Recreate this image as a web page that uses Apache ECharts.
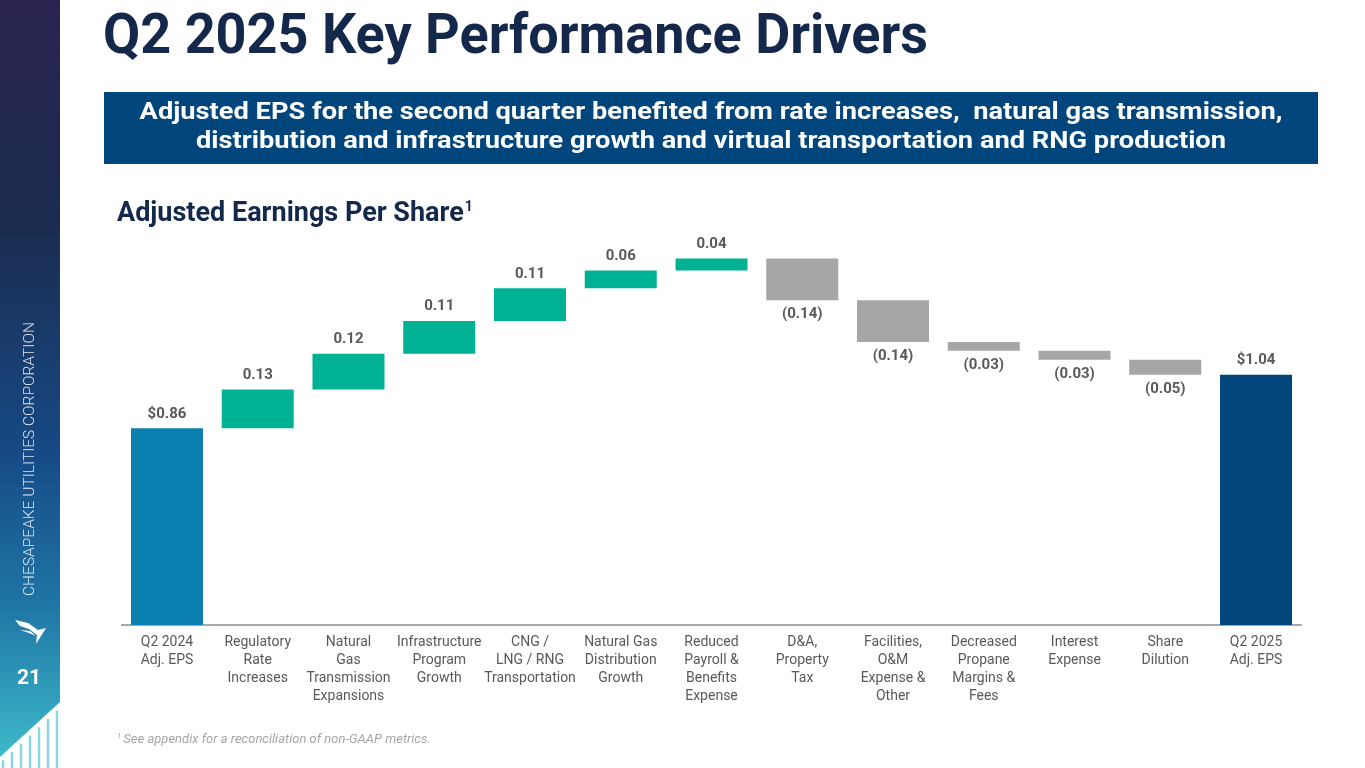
<!DOCTYPE html>
<html>
<head>
<meta charset="utf-8">
<script src="https://cdn.jsdelivr.net/npm/echarts@6/dist/echarts.min.js"></script>
<style>
html,body{margin:0;padding:0;background:#fff;}
#chart{width:1365px;height:768px;}
</style>
</head>
<body>
<div id="chart"></div>
<script>
// ---- data ----
const categories = [
  'Q2 2024\nAdj. EPS',
  'Regulatory\nRate\nIncreases',
  'Natural\nGas\nTransmission\nExpansions',
  'Infrastructure\nProgram\nGrowth',
  'CNG /\nLNG / RNG\nTransportation',
  'Natural Gas\nDistribution\nGrowth',
  'Reduced\nPayroll &\nBenefits\nExpense',
  'D&A,\nProperty\nTax',
  'Facilities,\nO&M\nExpense &\nOther',
  'Decreased\nPropane\nMargins &\nFees',
  'Interest\nExpense',
  'Share\nDilution',
  'Q2 2025\nAdj. EPS'
];
const startValue = 0.86;
const changes = [0.13, 0.12, 0.11, 0.11, 0.06, 0.04, -0.14, -0.14, -0.03, -0.03, -0.05];
const endValue = 1.04;
const valueLabels = ['$0.86', '0.13', '0.12', '0.11', '0.11', '0.06', '0.04',
  '(0.14)', '(0.14)', '(0.03)', '(0.03)', '(0.05)', '$1.04'];

const COLOR_START = '#0C7FB1';
const COLOR_UP = '#00B294';
const COLOR_DOWN = '#A6A6A6';
const COLOR_END = '#00457C';

// ---- build waterfall from data ----
const baseData = [0];
const barData = [];
barData.push({value: startValue, itemStyle: {color: COLOR_START}, label: {position: 'top'}});
let running = startValue;
changes.forEach(c => {
  if (c >= 0) {
    baseData.push(+running.toFixed(4));
    barData.push({value: c, itemStyle: {color: COLOR_UP}, label: {position: 'top'}});
  } else {
    baseData.push(+(running + c).toFixed(4));
    barData.push({value: -c, itemStyle: {color: COLOR_DOWN}, label: {position: 'bottom'}});
  }
  running += c;
});
baseData.push(0);
barData.push({value: endValue, itemStyle: {color: COLOR_END}, label: {position: 'top'}});

const chart = echarts.init(document.getElementById('chart'));

// sidebar decoration lines
const sideLines = [];
const lineXs = [3, 12, 21, 30, 39, 48, 57];
lineXs.forEach(x => {
  const topY = 757 - (x / 60) * 55 + 6;
  sideLines.push({
    type: 'line',
    shape: {x1: x, y1: topY, x2: x, y2: 768},
    style: {stroke: '#8ad7e3', lineWidth: 2.5},
    z: 9
  });
});

const option = {
  animation: false,
  backgroundColor: '#ffffff',
  grid: {left: 121.6, right: 63.6, top: 237.6, height: 387.4, containLabel: false},
  xAxis: {
    type: 'category',
    data: categories,
    axisTick: {show: false},
    axisLine: {lineStyle: {color: '#8c8c8c', width: 1.5}},
    axisLabel: {
      interval: 0,
      margin: 8,
      color: '#595959',
      fontFamily: 'Roboto',
      fontSize: 14,
      lineHeight: 18
    }
  },
  yAxis: {
    type: 'value',
    min: 0.2,
    max: 1.5,
    show: false,
    splitLine: {show: false}
  },
  series: [
    {
      name: 'base',
      type: 'bar',
      stack: 'wf',
      data: baseData,
      barWidth: 72,
      itemStyle: {color: 'rgba(0,0,0,0)'},
      emphasis: {disabled: true},
      silent: true
    },
    {
      name: 'value',
      type: 'bar',
      stack: 'wf',
      data: barData,
      barWidth: 72,
      emphasis: {disabled: true},
      label: {
        show: true,
        distance: 7,
        color: '#595959',
        fontFamily: 'Roboto',
        fontWeight: 'bold',
        fontSize: 15,
        formatter: p => valueLabels[p.dataIndex]
      }
    }
  ],
  graphic: [
    // sidebar
    {
      type: 'polygon',
      shape: {points: [[0, 0], [60, 0], [60, 702], [0, 757]]},
      style: {
        fill: new echarts.graphic.LinearGradient(0, 0, 0, 1, [
          {offset: 0, color: '#2A2350'},
          {offset: 0.3, color: '#1B2C50'},
          {offset: 0.6, color: '#164A86'},
          {offset: 0.8, color: '#1F76A6'},
          {offset: 1, color: '#3DB9C9'}
        ])
      },
      z: 10
    },
    ...sideLines,
    {
      type: 'text',
      x: 30, y: 459,
      rotation: Math.PI / 2,
      style: {
        text: 'CHESAPEAKE UTILITIES CORPORATION',
        fill: 'rgba(255,255,255,0.85)',
        font: '300 15.5px Roboto',
        align: 'center',
        verticalAlign: 'middle'
      },
      z: 11
    },
    {
      type: 'polygon',
      shape: {points: [[15, 620], [28, 623], [38, 630], [46, 628], [36, 644], [37, 635], [29, 629], [20, 626]]},
      style: {fill: '#ffffff'},
      z: 11
    },
    {
      type: 'polygon',
      shape: {points: [[20, 630], [30, 631], [36, 636], [29, 633]]},
      style: {fill: '#ffffff'},
      z: 11
    },
    {
      type: 'text',
      x: 29, y: 679,
      style: {
        text: '21',
        fill: '#ffffff',
        font: 'bold 21px Roboto',
        align: 'center',
        verticalAlign: 'middle'
      },
      z: 11
    },
    // title
    {
      type: 'text',
      x: 103, y: 39,
      scaleY: 1.04,
      style: {
        text: 'Q2 2025 Key Performance Drivers',
        fill: '#14284B',
        font: 'bold 54px Roboto',
        align: 'left',
        verticalAlign: 'middle'
      }
    },
    // banner
    {
      type: 'rect',
      shape: {x: 104, y: 92, width: 1214, height: 72},
      style: {fill: '#00457C'}
    },
    {
      type: 'text',
      x: 711, y: 113,
      scaleX: 1.135,
      style: {
        text: 'Adjusted EPS for the second quarter benefited from rate increases,  natural gas transmission,',
        fill: '#ffffff',
        font: 'bold 24px Roboto',
        align: 'center',
        verticalAlign: 'middle'
      }
    },
    {
      type: 'text',
      x: 711, y: 142,
      scaleX: 1.135,
      style: {
        text: 'distribution and infrastructure growth and virtual transportation and RNG production',
        fill: '#ffffff',
        font: 'bold 24px Roboto',
        align: 'center',
        verticalAlign: 'middle'
      }
    },
    // subtitle
    {
      type: 'text',
      x: 117, y: 214,
      style: {
        text: '{a|Adjusted Earnings Per Share}{s|1}',
        rich: {
          a: {fill: '#14284B', font: 'bold 27px Roboto', verticalAlign: 'bottom'},
          s: {fill: '#14284B', font: 'bold 14px Roboto', verticalAlign: 'top', padding: [0, 0, 14, 1]}
        },
        align: 'left',
        verticalAlign: 'middle'
      }
    },
    // footnote
    {
      type: 'text',
      x: 117, y: 740,
      style: {
        text: '{s|1 }{t|See appendix for a reconciliation of non-GAAP metrics.}',
        rich: {
          s: {fill: '#a6a6a6', font: 'italic 8px Roboto', padding: [0, 0, 8, 0]},
          t: {fill: '#a6a6a6', font: 'italic 13px Roboto'}
        },
        align: 'left',
        verticalAlign: 'middle'
      }
    }
  ]
};
chart.setOption(option);
</script>
</body>
</html>
